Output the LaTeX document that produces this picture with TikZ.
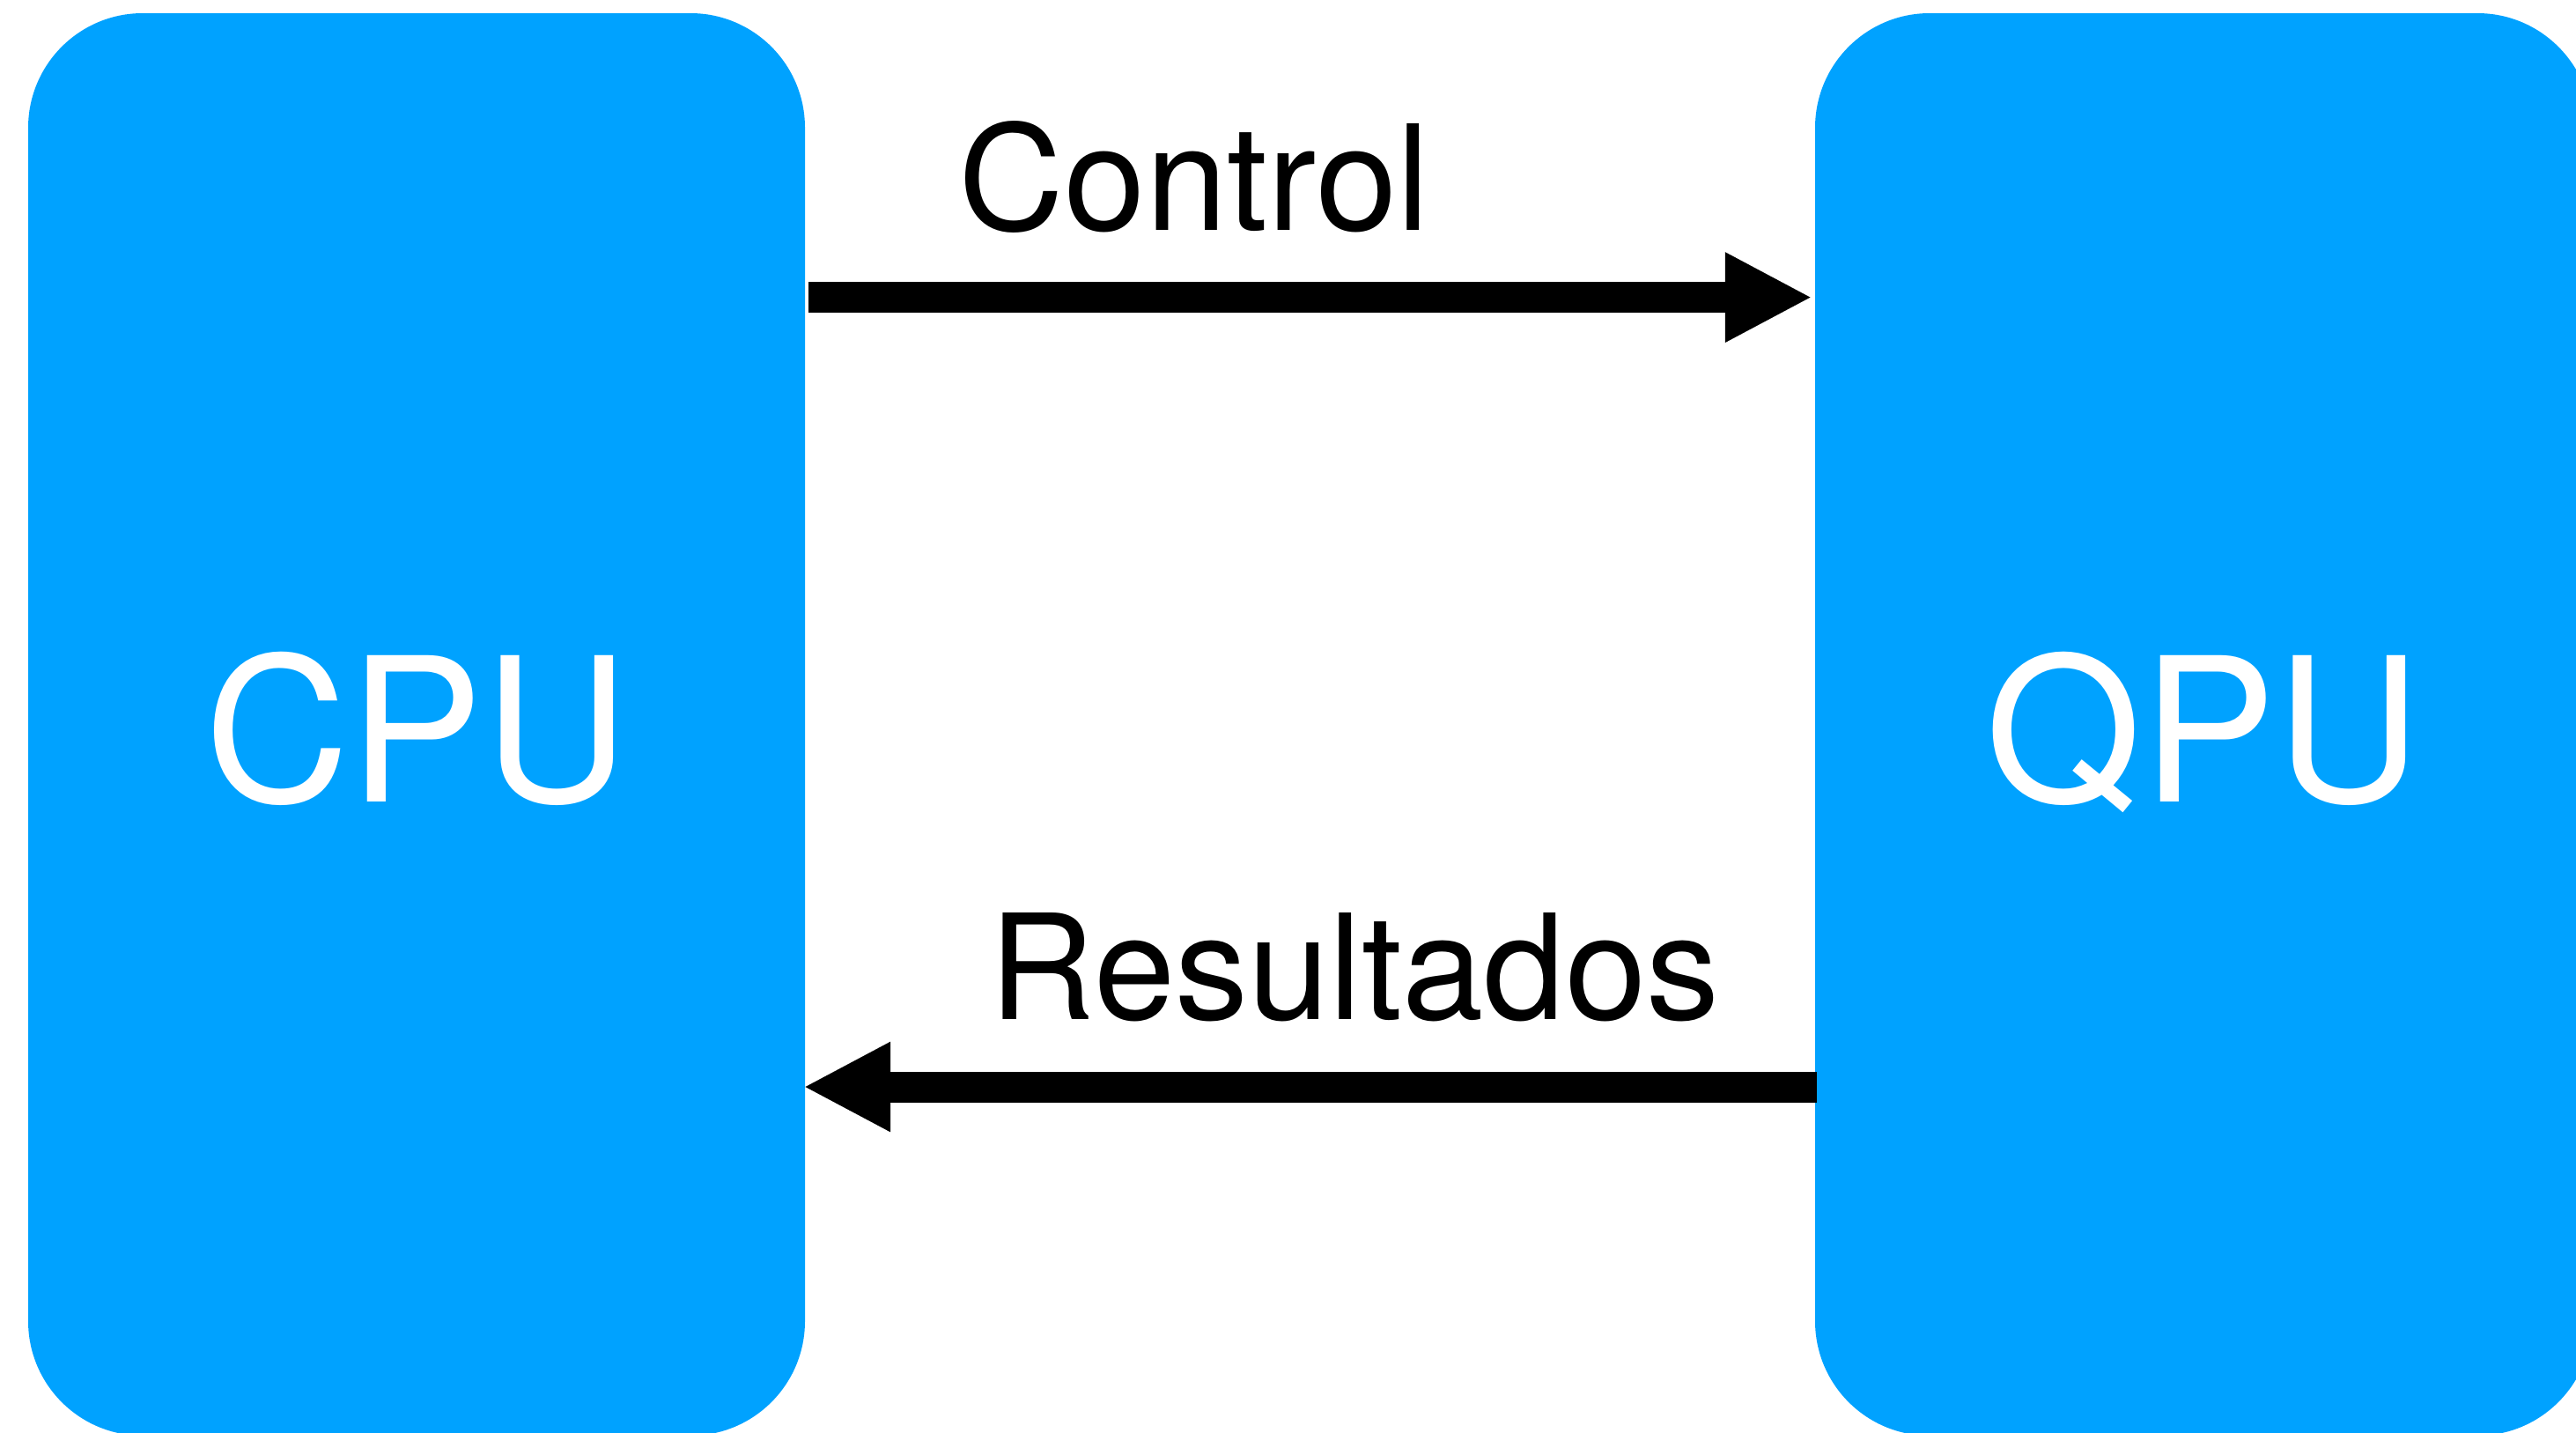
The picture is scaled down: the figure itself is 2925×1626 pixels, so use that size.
\documentclass[tikz,border=0pt]{standalone}
\usepackage{fontspec}
\setmainfont{TeX Gyre Heros}
\usetikzlibrary{arrows.meta}
\definecolor{unitblue}{RGB}{0,162,255}
\tikzset{
  unit/.style={fill=unitblue, draw=none, rounded corners=130pt, inner sep=0pt,
    minimum width=882pt, minimum height=1615pt, text=white,
    font=\fontsize{228}{272}\selectfont, text height=175pt, text depth=0pt},
  lbl/.style={anchor=base, inner sep=0pt, text=black, font=\fontsize{166}{198}\selectfont},
  flow/.style={draw=black, line width=35pt,
    -{Triangle[length=99pt,width=95pt]}}
}
\begin{document}
\begin{tikzpicture}[x=1pt,y=-1pt]
\useasboundingbox (0,0) rectangle (2925,1626);
\clip (0,0) rectangle (2925,1626);
\fill[white] (0,0) rectangle (2925,1626);
\node[unit] (cpu) at (473,822.5) {CPU};
\node[unit] (qpu) at (2502,822.5) {QPU};
\node[lbl] (ctrl) at (1356,261) {Control};
\node[lbl] (res) at (1538,1157) {Resultados};
\coordinate (yc) at (0,337.6);
\coordinate (yr) at (0,1234);
\draw[flow, shorten <=4pt, shorten >=3pt] (cpu.east |- yc) -- (qpu.west |- yc);
\draw[flow, shorten <=-2pt, shorten >=-2pt] (qpu.west |- yr) -- (cpu.east |- yr);
\end{tikzpicture}
\end{document}
